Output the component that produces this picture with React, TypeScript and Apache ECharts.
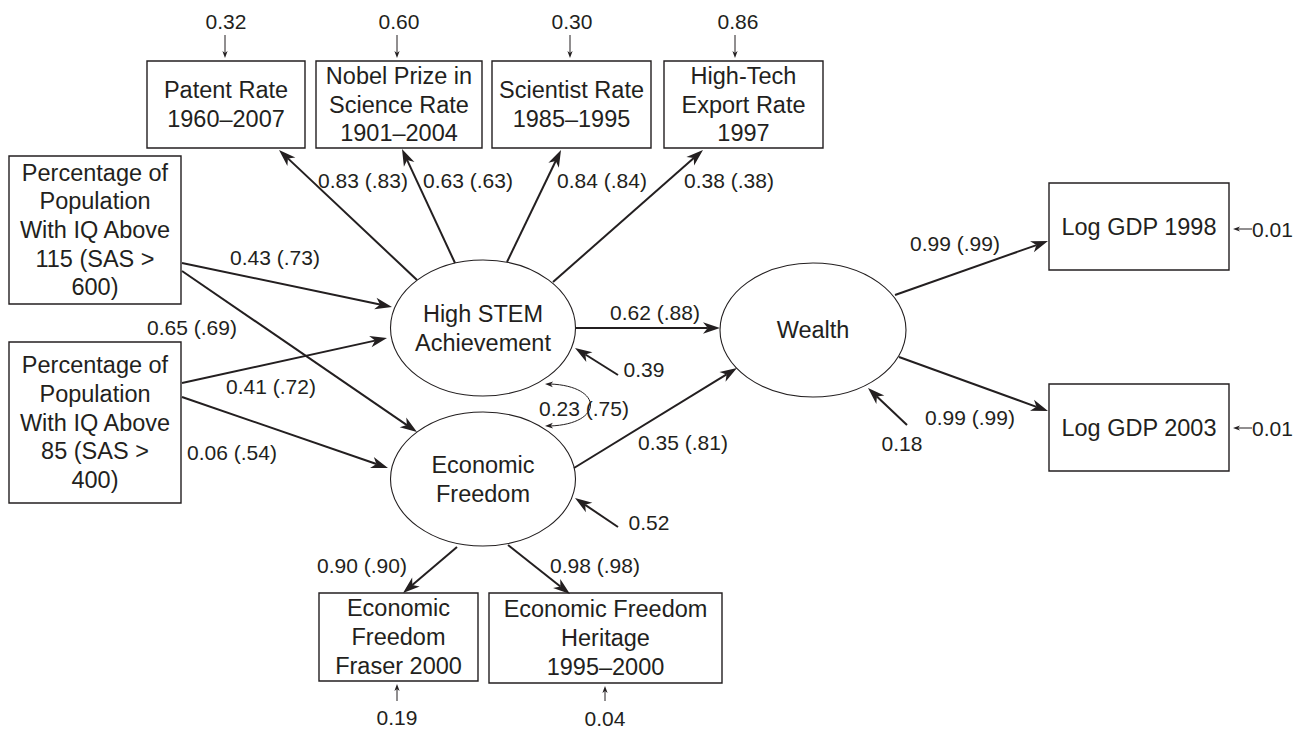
import React, { useEffect, useRef } from "react";
import * as echarts from "echarts";

const FONT = '"Liberation Sans", Arial, Helvetica, sans-serif';
const INK = "#231f20";

// ---- Observed variables (rectangles) ----
const observedNames = [
  "Patent Rate\n1960–2007",
  "Nobel Prize in\nScience Rate\n1901–2004",
  "Scientist Rate\n1985–1995",
  "High-Tech\nExport Rate\n1997",
  "Percentage of\nPopulation\nWith IQ Above\n115 (SAS >\n600)",
  "Percentage of\nPopulation\nWith IQ Above\n85 (SAS >\n400)",
  "Log GDP 1998",
  "Log GDP 2003",
  "Economic\nFreedom\nFraser 2000",
  "Economic Freedom\nHeritage\n1995–2000",
];
// layout (diagram units): x1, y1, x2, y2
const observedBoxes = [
  [147, 61, 305, 148],
  [316, 61, 482, 148],
  [492, 61, 651, 148],
  [664, 61, 823, 148],
  [9, 156, 181, 304],
  [9, 342, 181, 503],
  [1049, 183, 1229, 270],
  [1049, 384, 1229, 471],
  [319, 593, 478, 681],
  [489, 593, 722, 683],
];

// ---- Latent variables (ellipses) ----
const latentNames = ["High STEM\nAchievement", "Economic\nFreedom", "Wealth"];
// layout: cx, cy, rx, ry
const latentEllipses = [
  [483, 328, 92.5, 68],
  [483, 479, 92.5, 67],
  [813, 330, 93, 67],
];

// ---- Path coefficients ----
const pathCoefficients = [
  "0.83 (.83)", "0.63 (.63)", "0.84 (.84)", "0.38 (.38)",
  "0.43 (.73)", "0.41 (.72)", "0.65 (.69)", "0.06 (.54)",
  "0.62 (.88)", "0.35 (.81)", "0.90 (.90)", "0.98 (.98)",
  "0.99 (.99)", "0.99 (.99)",
];
// layout: from x, y -> to x, y
const pathArrows = [
  [417, 280, 279, 150],
  [455, 263, 402, 149],
  [507, 262, 561, 150],
  [553, 282, 703, 150],
  [182, 263, 392, 307],
  [182, 271, 417, 432],
  [182, 383, 387, 338],
  [182, 397, 388, 468],
  [575, 328, 720, 328],
  [574, 468, 737, 368],
  [457, 547, 403, 593],
  [508, 545, 570, 594],
  [895, 295, 1048, 241],
  [899, 357, 1048, 411],
];
const pathLabelPos = [
  [363, 180], [468, 180], [602, 180], [729, 180],
  [275, 257], [271, 386], [192, 327], [232, 452],
  [655, 312], [683, 442], [362, 565], [595, 565],
  [955, 243], [970, 417],
];

// ---- Disturbances of latent variables ----
const disturbances = ["0.39", "0.52", "0.18"];
const disturbanceArrows = [
  [618, 375, 575, 348],
  [618, 527, 575, 498],
  [907, 425, 868, 388],
];
const disturbanceLabelPos = [[644, 369], [649, 522], [902, 443]];

// ---- Error variances of observed variables ----
const errorVariances = ["0.32", "0.60", "0.30", "0.86", "0.19", "0.04", "0.01", "0.01"];
const errorArrows = [
  [225, 35, 225, 58],
  [397, 35, 397, 58],
  [570, 35, 570, 58],
  [735, 35, 735, 58],
  [397, 701, 397, 684],
  [605, 701, 605, 686],
  [1252, 229, 1233, 229],
  [1252, 428, 1233, 428],
];
const errorLabelPos = [
  [226, 21, "center"], [399, 21, "center"], [572, 21, "center"], [738, 21, "center"],
  [397, 717, "center"], [605, 718, "center"], [1252, 229, "left"], [1252, 428, "left"],
];

// ---- Covariance between latent variables ----
const covarianceLabel = ["0.23 (.75)"];
const covarianceCurve = [[545, 384, 604, 386, 604, 424, 545, 426]];
const covarianceLabelPos = [[584, 408]];

function arrowShapes(p1: number[], p2: number[], width: number, headLen: number, headHalf: number) {
  const dx = p2[0] - p1[0];
  const dy = p2[1] - p1[1];
  const len = Math.hypot(dx, dy) || 1;
  const ux = dx / len, uy = dy / len;
  const nx = -uy, ny = ux;
  const bx = p2[0] - ux * headLen, by = p2[1] - uy * headLen;
  const mx = p2[0] - ux * headLen * 0.72, my = p2[1] - uy * headLen * 0.72;
  return [
    {
      type: "line",
      shape: { x1: p1[0], y1: p1[1], x2: mx, y2: my },
      style: { stroke: INK, lineWidth: width, fill: null },
    },
    {
      type: "polygon",
      shape: {
        points: [
          [p2[0], p2[1]],
          [bx + nx * headHalf, by + ny * headHalf],
          [mx, my],
          [bx - nx * headHalf, by - ny * headHalf],
        ],
      },
      style: { fill: INK, stroke: null },
    },
  ];
}

function arrowSeries(name: string, data: number[][], width: number, headLen: number, headHalf: number) {
  return {
    type: "custom",
    name,
    coordinateSystem: "cartesian2d",
    silent: true,
    data,
    renderItem: (_params: any, api: any) => {
      const p1 = api.coord([api.value(0), api.value(1)]);
      const p2 = api.coord([api.value(2), api.value(3)]);
      return { type: "group", children: arrowShapes(p1, p2, width, headLen, headHalf) };
    },
  };
}

function labelSeries(name: string, texts: string[], pos: any[]) {
  return {
    type: "custom",
    name,
    coordinateSystem: "cartesian2d",
    silent: true,
    data: pos.map((p) => [p[0], p[1]]),
    renderItem: (params: any, api: any) => {
      const p = api.coord([api.value(0), api.value(1)]);
      const align = pos[params.dataIndex][2] || "center";
      return {
        type: "text",
        style: {
          text: texts[params.dataIndex],
          x: p[0],
          y: p[1],
          align,
          verticalAlign: "middle",
          fontFamily: FONT,
          fontSize: 21,
          fill: INK,
        },
      };
    },
  };
}

export default function App() {
  const ref = useRef<HTMLDivElement>(null);

  useEffect(() => {
    document.body.style.margin = "0";
    document.body.style.overflow = "hidden";
    if (!ref.current) return;
    const chart = echarts.init(ref.current, null, { renderer: "svg" });

    const option: any = {
      animation: false,
      backgroundColor: "#ffffff",
      grid: { left: 0, right: 0, top: 0, bottom: 0 },
      xAxis: { type: "value", min: 0, max: 1300, show: false },
      yAxis: { type: "value", min: 0, max: 730, inverse: true, show: false },
      series: [
        {
          type: "custom",
          name: "observed",
          coordinateSystem: "cartesian2d",
          silent: true,
          data: observedBoxes,
          renderItem: (params: any, api: any) => {
            const a = api.coord([api.value(0), api.value(1)]);
            const b = api.coord([api.value(2), api.value(3)]);
            return {
              type: "group",
              children: [
                {
                  type: "rect",
                  shape: { x: a[0], y: a[1], width: b[0] - a[0], height: b[1] - a[1] },
                  style: { fill: "#ffffff", stroke: INK, lineWidth: 1.4 },
                },
                {
                  type: "text",
                  style: {
                    text: observedNames[params.dataIndex],
                    x: (a[0] + b[0]) / 2,
                    y: (a[1] + b[1]) / 2,
                    align: "center",
                    verticalAlign: "middle",
                    fontFamily: FONT,
                    fontSize: 23.5,
                    lineHeight: 28.6,
                    fill: INK,
                  },
                },
              ],
            };
          },
        },
        {
          type: "custom",
          name: "latent",
          coordinateSystem: "cartesian2d",
          silent: true,
          data: latentEllipses,
          renderItem: (params: any, api: any) => {
            const c = api.coord([api.value(0), api.value(1)]);
            const e = api.coord([api.value(0) + api.value(2), api.value(1) + api.value(3)]);
            return {
              type: "group",
              children: [
                {
                  type: "ellipse",
                  shape: { cx: c[0], cy: c[1], rx: e[0] - c[0], ry: e[1] - c[1] },
                  style: { fill: "#ffffff", stroke: INK, lineWidth: 1.1 },
                },
                {
                  type: "text",
                  style: {
                    text: latentNames[params.dataIndex],
                    x: c[0],
                    y: c[1],
                    align: "center",
                    verticalAlign: "middle",
                    fontFamily: FONT,
                    fontSize: 23.5,
                    lineHeight: 29,
                    fill: INK,
                  },
                },
              ],
            };
          },
        },
        arrowSeries("paths", pathArrows, 2, 17, 5.8),
        arrowSeries("disturbances", disturbanceArrows, 2, 17, 5.8),
        arrowSeries("errors", errorArrows, 1, 7, 2.6),
        {
          type: "custom",
          name: "covariance",
          coordinateSystem: "cartesian2d",
          silent: true,
          data: covarianceCurve,
          renderItem: (_params: any, api: any) => {
            const s = api.coord([api.value(0), api.value(1)]);
            const c1 = api.coord([api.value(2), api.value(3)]);
            const c2 = api.coord([api.value(4), api.value(5)]);
            const t = api.coord([api.value(6), api.value(7)]);
            const headA = arrowShapes([s[0] + 12, s[1] + 0.6], s, 1, 8, 2.8)[1];
            const headB = arrowShapes([t[0] + 12, t[1] - 0.6], t, 1, 8, 2.8)[1];
            return {
              type: "group",
              children: [
                {
                  type: "bezierCurve",
                  shape: {
                    x1: s[0] + 5, y1: s[1],
                    cpx1: c1[0], cpy1: c1[1],
                    cpx2: c2[0], cpy2: c2[1],
                    x2: t[0] + 5, y2: t[1],
                  },
                  style: { stroke: INK, lineWidth: 1, fill: null },
                },
                headA,
                headB,
              ],
            };
          },
        },
        labelSeries("pathLabels", pathCoefficients, pathLabelPos),
        labelSeries("disturbanceLabels", disturbances, disturbanceLabelPos),
        labelSeries("errorLabels", errorVariances, errorLabelPos),
        labelSeries("covarianceLabel", covarianceLabel, covarianceLabelPos),
      ],
    };

    chart.setOption(option);
    return () => {
      chart.dispose();
    };
  }, []);

  return <div ref={ref} style={{ width: 1300, height: 730 }} />;
}
